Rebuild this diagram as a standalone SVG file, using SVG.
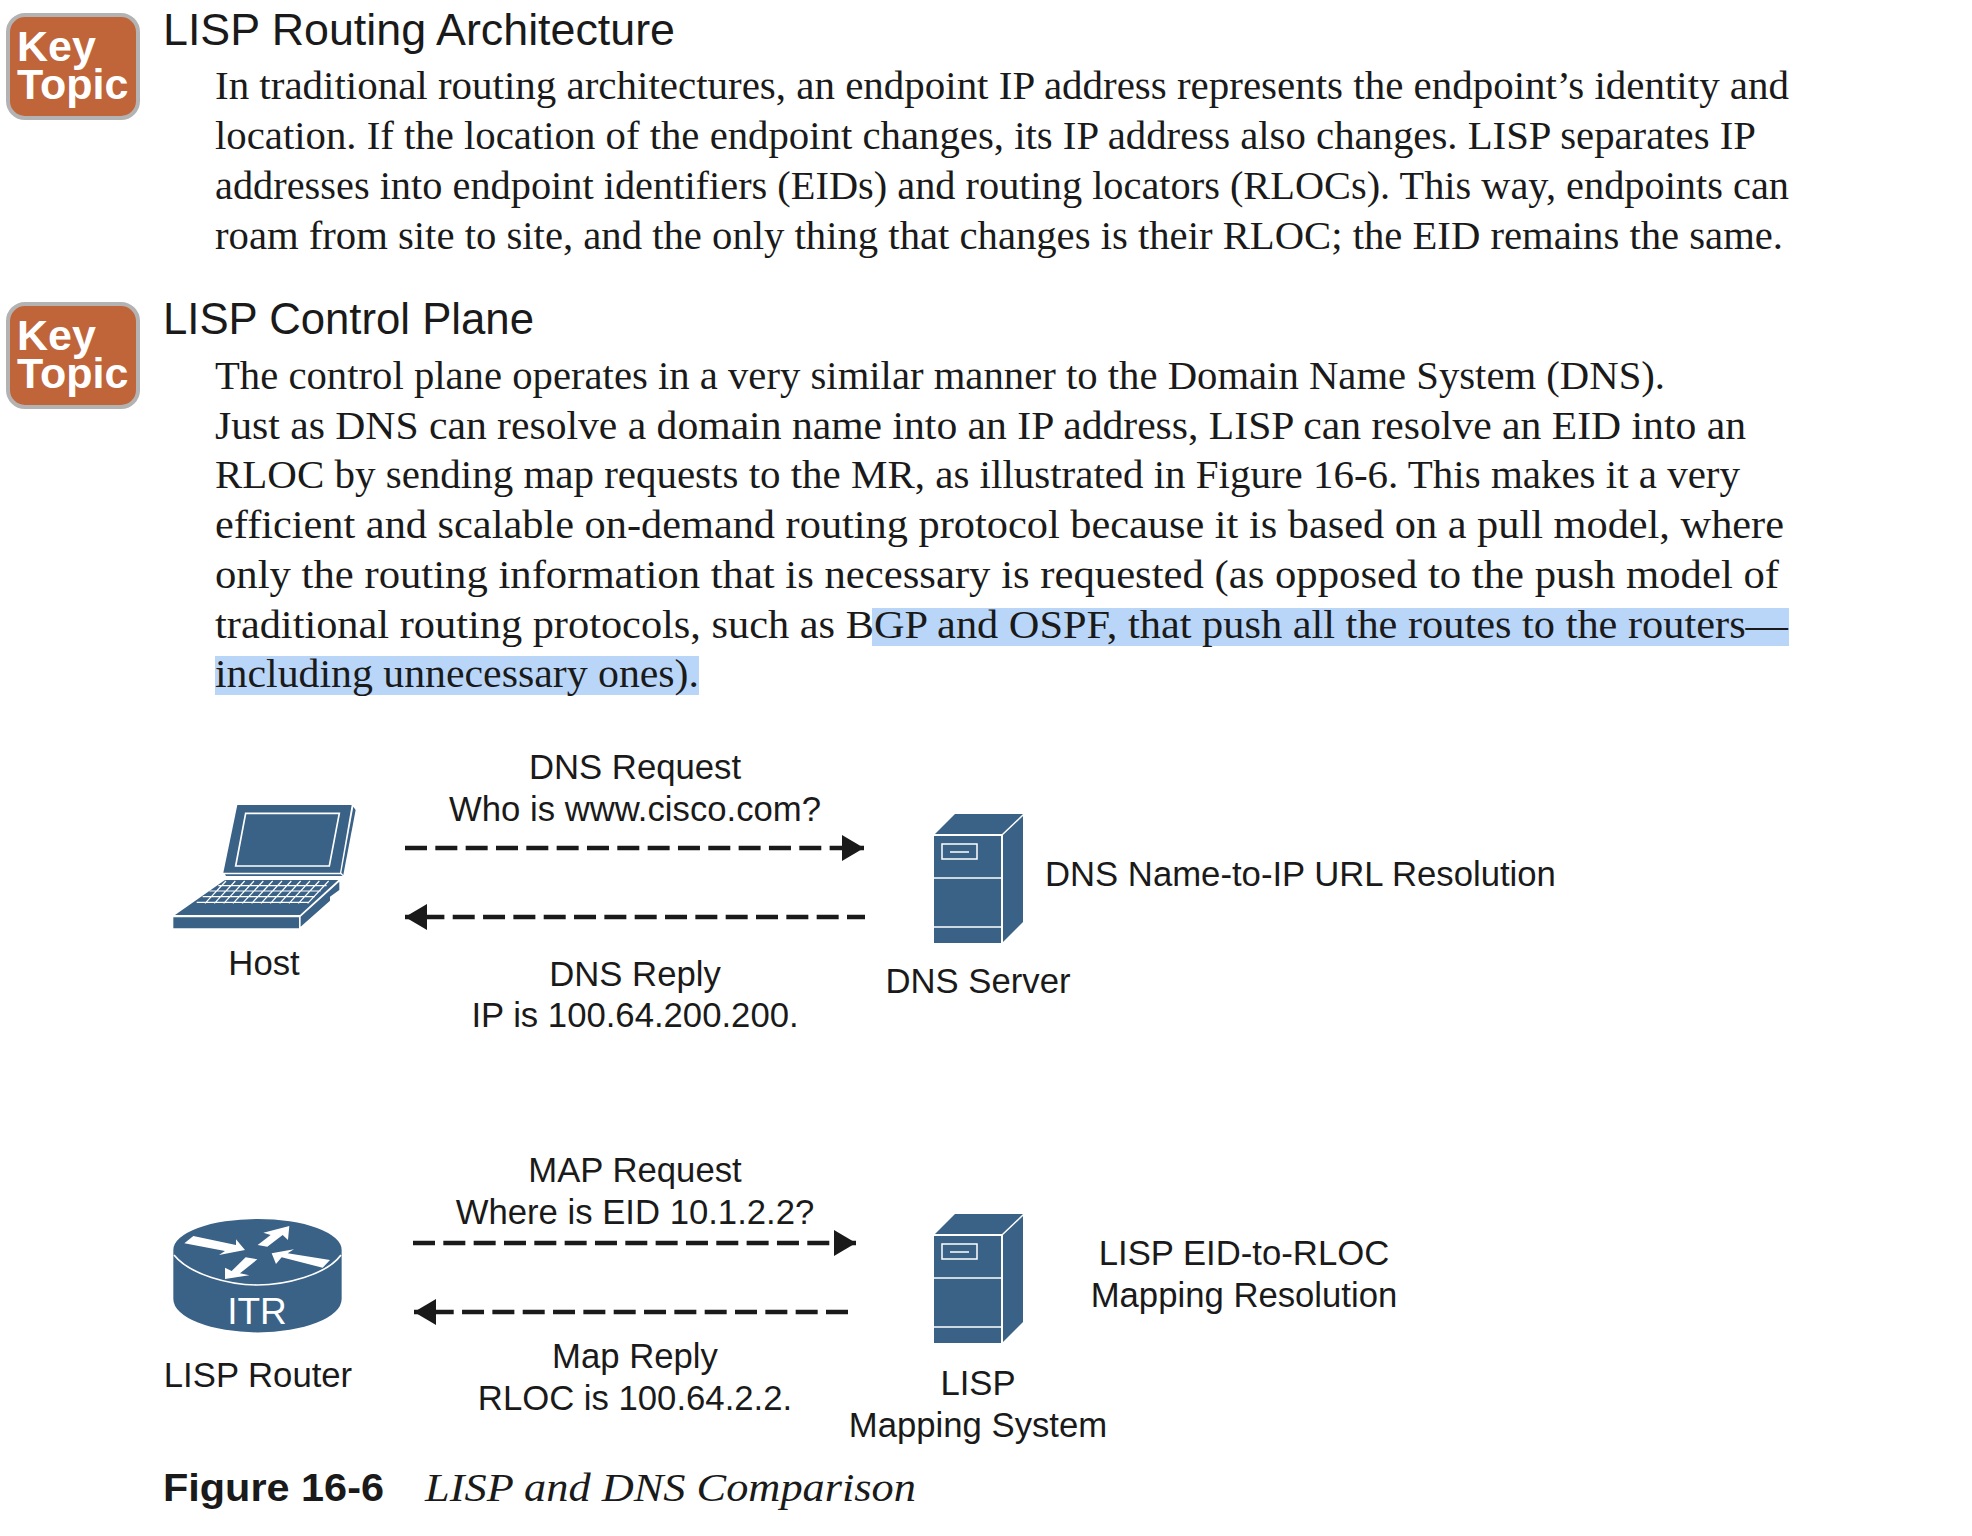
<svg xmlns="http://www.w3.org/2000/svg" width="1972" height="1536" viewBox="0 0 1972 1536">
<style>
.body{font-family:"Liberation Serif","Times New Roman",serif;font-size:41px;fill:#1a1a1a}
.h{font-family:"Liberation Sans",Arial,sans-serif;font-size:44.5px;fill:#1a1a1a}
.l{font-family:"Liberation Sans",Arial,sans-serif;font-size:34.7px;fill:#1a1a1a}
.m{text-anchor:middle}
.key{font-family:"Liberation Sans",Arial,sans-serif;font-size:43px;font-weight:bold;fill:#fff}
.badge{fill:#c0653a;stroke:#b3b3b3;stroke-width:4}
.ic{fill:#3a6186}
.wl{fill:none;stroke:#fff;stroke-width:1.5}
.dash{fill:none;stroke:#1a1a1a;stroke-width:4.5;stroke-dasharray:22 8.33}
.sel{fill:#b9d6f9}
</style>
<defs>
<marker id="ah" markerUnits="userSpaceOnUse" markerWidth="24" markerHeight="26" refX="22" refY="13" orient="auto-start-reverse"><path d="M0 0L22 13L0 26Z" fill="#1a1a1a"/></marker>
<g id="badge"><rect class="badge" x="8" y="1" width="130" height="103" rx="17"/><text class="key" x="17" y="47">Key</text><text class="key" x="17" y="85">Topic</text></g>
<g id="server">
<path class="ic" d="M55 44L75 24H143L122 44Z"/>
<path class="ic" d="M54 46H121V153H54Z"/>
<path class="ic" d="M123 45L143 26V132L123 152Z"/>
<path class="wl" d="M62 54H97V69H62ZM70 62H89M54 88H121M54 137H121"/>
</g>
</defs>
<rect width="1972" height="1536" fill="#fff"/>
<rect class="sel" x="872" y="608" width="917" height="38"/>
<rect class="sel" x="215" y="656" width="484" height="39"/>
<g id="keytopic-1"><use href="#badge" y="14"/></g>
<g id="keytopic-2"><use href="#badge" y="303"/></g>
<text class="h" x="163" y="45" textLength="512" lengthAdjust="spacingAndGlyphs">LISP Routing Architecture</text>
<text class="body" x="215" y="99" textLength="1574" lengthAdjust="spacingAndGlyphs">In traditional routing architectures, an endpoint IP address represents the endpoint’s identity and</text>
<text class="body" x="215" y="149" textLength="1541" lengthAdjust="spacingAndGlyphs">location. If the location of the endpoint changes, its IP address also changes. LISP separates IP</text>
<text class="body" x="215" y="199" textLength="1574" lengthAdjust="spacingAndGlyphs">addresses into endpoint identifiers (EIDs) and routing locators (RLOCs). This way, endpoints can</text>
<text class="body" x="215" y="249" textLength="1568" lengthAdjust="spacingAndGlyphs">roam from site to site, and the only thing that changes is their RLOC; the EID remains the same.</text>
<text class="h" x="163" y="334" textLength="371" lengthAdjust="spacingAndGlyphs">LISP Control Plane</text>
<text class="body" x="215" y="389" textLength="1450" lengthAdjust="spacingAndGlyphs">The control plane operates in a very similar manner to the Domain Name System (DNS).</text>
<text class="body" x="215" y="439" textLength="1531" lengthAdjust="spacingAndGlyphs">Just as DNS can resolve a domain name into an IP address, LISP can resolve an EID into an</text>
<text class="body" x="215" y="488" textLength="1525" lengthAdjust="spacingAndGlyphs">RLOC by sending map requests to the MR, as illustrated in Figure 16-6. This makes it a very</text>
<text class="body" x="215" y="538" textLength="1569" lengthAdjust="spacingAndGlyphs">efficient and scalable on-demand routing protocol because it is based on a pull model, where</text>
<text class="body" x="215" y="588" textLength="1564" lengthAdjust="spacingAndGlyphs">only the routing information that is necessary is requested (as opposed to the push model of</text>
<text class="body" x="215" y="638" textLength="1573" lengthAdjust="spacingAndGlyphs">traditional routing protocols, such as BGP and OSPF, that push all the routes to the routers—</text>
<text class="body" x="215" y="687" textLength="484" lengthAdjust="spacingAndGlyphs">including unnecessary ones).</text>

<g id="connectors">
<path class="dash" d="M405 848H864" marker-end="url(#ah)"/>
<path class="dash" stroke-dashoffset="4" d="M865 917H405" marker-end="url(#ah)"/>
<path class="dash" d="M413 1243H856" marker-end="url(#ah)"/>
<path class="dash" d="M848 1312H414" marker-end="url(#ah)"/>
</g>
<g id="host">
<g transform="translate(150 780) scale(.3333)">
<path class="ic" d="M262 75H605L570 278H220Z"/>
<path class="ic" d="M610 80L617 90L580 285L574 278Z"/>
<path class="ic" d="M225 283H572L578 288H228Z"/>
<path d="M287 100H568L538 258H257Z" fill="#3a6186" stroke="#fff" stroke-width="5"/>
<path class="ic" d="M225 300H565L450 405H75Z"/>
<path class="ic" d="M70 412H447V445H70Z"/>
<path class="ic" d="M452 410L568 305V330L540 350V362L452 440Z"/>
<path fill="none" stroke="#fff" stroke-width="3.5" d="M205 317H530M178 333H512M158 350H495M140 367H475M228 303L165 370M256 303L193 370M284 303L221 370M312 303L249 370M340 303L277 370M368 303L305 370M396 303L333 370M424 303L361 370M452 303L389 370M480 303L417 370M508 303L445 370M536 303L473 370"/>
</g>
<text class="l m" x="264" y="975">Host</text>
</g>
<g id="dns-server">
<use href="#server" x="880" y="790"/>
<text class="l m" x="978" y="993">DNS Server</text>
</g>
<g id="lisp-mapping">
<use href="#server" x="880" y="1190"/>
<text class="l m" x="978" y="1395">LISP</text>
<text class="l m" x="978" y="1437">Mapping System</text>
</g>
<g id="itr">
<g transform="translate(150 1200) scale(.3333)">
<path class="ic" d="M70 150A252 93 0 0 1 575 150V297A252 100 0 0 1 70 297Z"/>
<path fill="none" stroke="#fff" stroke-width="5" d="M72 165C120 225 240 255 322 255C405 255 530 225 573 165"/>
<path fill="#fff" d="M103 130L130 108L258 135L258 118L285 150L207 165L225 153ZM323 135L362 105L340 98L418 78L414 120L398 105L352 140ZM365 160L432 148L413 160L540 180L518 203L395 172L378 192ZM225 237V203L245 213L287 172L322 178L270 220L298 226Z"/>
</g>
<text x="257" y="1324" text-anchor="middle" font-family="Liberation Sans, Arial, sans-serif" font-size="37" fill="#fff">ITR</text>
<text class="l m" x="258" y="1387">LISP Router</text>
</g>
<text class="l m" x="635" y="779">DNS Request</text>
<text class="l m" x="635" y="821">Who is www.cisco.com?</text>
<text class="l m" x="635" y="986">DNS Reply</text>
<text class="l m" x="635" y="1027">IP is 100.64.200.200.</text>
<text class="l" x="1045" y="886">DNS Name-to-IP URL Resolution</text>
<text class="l m" x="635" y="1182">MAP Request</text>
<text class="l m" x="635" y="1224">Where is EID 10.1.2.2?</text>
<text class="l m" x="635" y="1368">Map Reply</text>
<text class="l m" x="635" y="1410">RLOC is 100.64.2.2.</text>
<text class="l m" x="1244" y="1265">LISP EID-to-RLOC</text>
<text class="l m" x="1244" y="1307">Mapping Resolution</text>
<text x="163" y="1501" font-family="Liberation Sans, Arial, sans-serif" font-size="38" font-weight="bold" fill="#1a1a1a" textLength="221" lengthAdjust="spacingAndGlyphs">Figure 16-6</text>
<text x="425" y="1501" font-family="Liberation Serif, Times New Roman, serif" font-size="41" font-style="italic" fill="#1a1a1a" textLength="491" lengthAdjust="spacingAndGlyphs">LISP and DNS Comparison</text>
</svg>
